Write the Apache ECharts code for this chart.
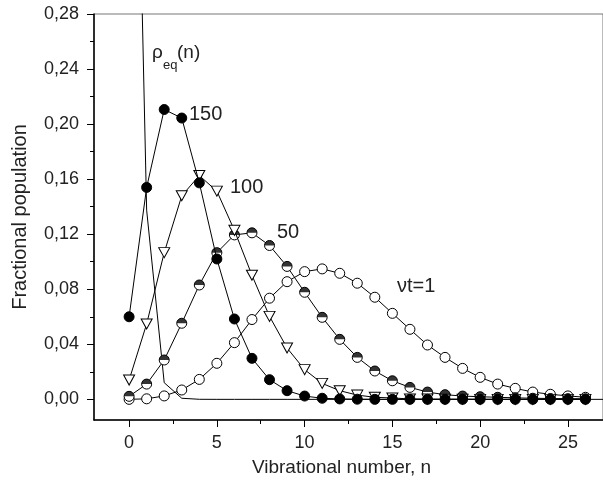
<!DOCTYPE html>
<html>
<head>
<meta charset="utf-8">
<script src="https://cdn.jsdelivr.net/npm/echarts@6/dist/echarts.min.js"></script>
<style>html,body{margin:0;padding:0;background:#fff}#c{width:603px;height:485px}</style>
</head>
<body>
<div id="c"></div>
<script>
// ---- data ----
const nValues = [0,1,2,3,4,5,6,7,8,9,10,11,12,13,14,15,16,17,18,19,20,21,22,23,24,25,26];
const nEq = [0,1,2,3,4,5,6,7,8,9,10,11,12,13,14,15,16,17,18,19,20,21,22,23,24,25,26,27,28];
const rhoEq = [0.71,0.1375,0.0121,0.0008,0.00005,0,0,0,0,0,0,0,0,0,0,0,0,0,0,0,0,0,0,0,0,0,0,0,0];
const popVt1 = [0.0000,0.0004,0.0025,0.0068,0.0145,0.0262,0.0412,0.0580,0.0735,0.0855,0.0928,0.0948,0.0916,0.0844,0.0742,0.0625,0.0509,0.0395,0.0305,0.0225,0.0160,0.0111,0.0080,0.0053,0.0037,0.0025,0.0015];
const popVt50 = [0.0022,0.0111,0.0286,0.0553,0.0831,0.1066,0.1195,0.1210,0.1118,0.0966,0.0778,0.0596,0.0436,0.0305,0.0206,0.0135,0.0087,0.0053,0.0034,0.0024,0.0019,0.0015,0.0011,0.0008,0.0006,0.0005,0.0004];
const popVt100 = [0.0140,0.0548,0.1066,0.1479,0.1626,0.1513,0.1228,0.0902,0.0603,0.0373,0.0216,0.0116,0.0063,0.0031,0.0015,0.0010,0.0003,0.0002,0.0001,0.0001,0.0000,0,0,0,0,0,0];
const popVt150 = [0.0600,0.1540,0.2106,0.2044,0.1573,0.1020,0.0584,0.0298,0.0143,0.0063,0.0024,0.0008,0.0003,0.0001,0,0,0,0,0,0,0,0,0,0,0,0,0];
const xMajorTicks = [0,5,10,15,20,25];
const xMinorTicks = [2.5,7.5,12.5,17.5,22.5];
const yMajorTicks = [0,0.04,0.08,0.12,0.16,0.20,0.24,0.28];
const yMinorTicks = [0.02,0.06,0.10,0.14,0.18,0.22,0.26];
const xTitle = 'Vibrational number, n';
const yTitle = 'Fractional population';

const pairs = (xs, ys) => ys.map((v, i) => [xs[i], v]);
const fmt = v => v.toFixed(2).replace('.', ',');
const TXT = '#222';
const FONT = 'Liberation Sans, Arial, sans-serif';

const chart = echarts.init(document.getElementById('c'), null, {renderer: 'canvas'});

const xBase = {type: 'value', min: -2, max: 27, gridIndex: 0, position: 'bottom', splitLine: {show: false}};
const yBase = {type: 'value', min: -0.015, max: 0.28, gridIndex: 0, position: 'left', splitLine: {show: false}};

const lineSeries = (name, data, sym, fill, extra) => Object.assign({
  name, type: 'line', data, symbol: sym, symbolSize: 10, showSymbol: true,
  lineStyle: {color: '#000', width: 1}, itemStyle: {color: fill, borderColor: '#000', borderWidth: 1},
  silent: true, clip: true
}, extra || {});

chart.setOption({
  animation: false,
  grid: {left: 94, top: 14, right: -6, bottom: 65, show: true, borderColor: '#777', borderWidth: 1},
  xAxis: [
    Object.assign({}, xBase, {
      name: xTitle, nameLocation: 'middle', nameGap: 38,
      nameTextStyle: {fontSize: 19, color: TXT, fontFamily: FONT, padding: [0, 14, 0, 0]},
      axisLine: {show: true, onZero: false, lineStyle: {color: '#000', width: 1.5}},
      axisTick: {show: true, customValues: xMajorTicks, length: 7, lineStyle: {color: '#000', width: 1}},
      axisLabel: {customValues: xMajorTicks, fontSize: 18, color: TXT, fontFamily: FONT, margin: 14}
    }),
    Object.assign({}, xBase, {
      axisLine: {show: false, onZero: false},
      axisTick: {show: true, customValues: xMinorTicks, length: 4, lineStyle: {color: '#000', width: 1}},
      axisLabel: {show: false}
    })
  ],
  yAxis: [
    Object.assign({}, yBase, {
      name: yTitle, nameLocation: 'middle', nameGap: 64,
      nameTextStyle: {fontSize: 20, color: TXT, fontFamily: FONT},
      axisLine: {show: true, onZero: false, lineStyle: {color: '#000', width: 1.5}},
      axisTick: {show: true, customValues: yMajorTicks, length: 7, lineStyle: {color: '#000', width: 1}},
      axisLabel: {customValues: yMajorTicks, formatter: fmt, fontSize: 18, color: TXT, fontFamily: FONT, margin: 15}
    }),
    Object.assign({}, yBase, {
      axisLine: {show: false, onZero: false},
      axisTick: {show: true, customValues: yMinorTicks, length: 4, lineStyle: {color: '#000', width: 1}},
      axisLabel: {show: false}
    })
  ],
  series: [
    {name: 'rho_eq', type: 'line', data: pairs(nEq, rhoEq), showSymbol: false, symbol: 'none',
     lineStyle: {color: '#000', width: 1}, silent: true, clip: true, z: 2},
    lineSeries('vt=1', pairs(nValues, popVt1), 'circle', '#fff', {z: 3}),
    lineSeries('50', pairs(nValues, popVt50), 'circle', '#fff', {z: 4}),
    {name: '50-half', type: 'scatter', data: pairs(nValues, popVt50),
     symbol: 'path://M0,5A5,5 0 0 1 10,5Z', symbolSize: [10, 5], symbolOffset: [0, -2.5],
     itemStyle: {color: '#000'}, silent: true, z: 4},
    lineSeries('100', pairs(nValues, popVt100), 'triangle', '#fff', {z: 5, symbolRotate: 180, symbolSize: [11, 10]}),
    lineSeries('150', pairs(nValues, popVt150), 'circle', '#000', {z: 6})
  ],
  graphic: [
    {type: 'text', left: 152, top: 43, silent: true, style: {text: 'ρ', fontSize: 19, fill: TXT, fontFamily: FONT}},
    {type: 'text', left: 163, top: 59, silent: true, style: {text: 'eq', fontSize: 13, fill: TXT, fontFamily: FONT}},
    {type: 'text', left: 177, top: 43, silent: true, style: {text: '(n)', fontSize: 19, fill: TXT, fontFamily: FONT}},
    {type: 'text', left: 189, top: 104, silent: true, style: {text: '150', fontSize: 20, fill: TXT, fontFamily: FONT}},
    {type: 'text', left: 230, top: 177, silent: true, style: {text: '100', fontSize: 20, fill: TXT, fontFamily: FONT}},
    {type: 'text', left: 277, top: 222, silent: true, style: {text: '50', fontSize: 20, fill: TXT, fontFamily: FONT}},
    {type: 'text', left: 397, top: 276, silent: true, style: {text: 'νt=1', fontSize: 20, fill: TXT, fontFamily: FONT}}
  ]
});
</script>
</body>
</html>
